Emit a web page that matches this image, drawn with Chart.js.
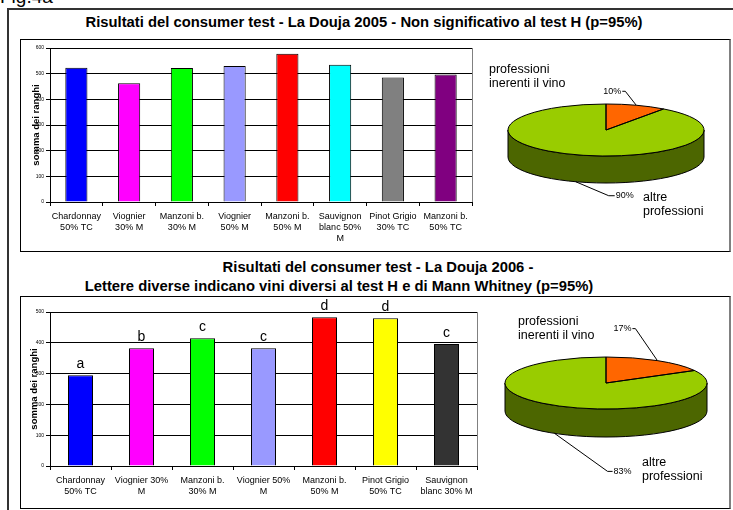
<!DOCTYPE html>
<html>
<head>
<meta charset="utf-8">
<script src="https://cdn.jsdelivr.net/npm/chart.js@4.4.1/dist/chart.umd.min.js"></script>
<style>
  body { margin: 0; background: #fff; width: 733px; height: 510px; overflow: hidden; position: relative;
         font-family: "Liberation Sans", Arial, sans-serif; }
  .abs { position: absolute; }
  .frame { position: absolute; border: 1px solid #000; border-right: 2px solid #808080; box-sizing: border-box; }
  .title { position: absolute; width: 700px; text-align: center; font-weight: bold; font-size: 14.8px; line-height: 17px; white-space: nowrap; }
  canvas { position: absolute; }
</style>
</head>
<body>
<div class="abs" style="left:0;top:-13px;font-size:19px;line-height:19px">Fig.4a</div>
<div class="abs" style="left:7px;top:8px;width:760px;height:540px;border:2px solid #333;box-sizing:border-box"></div>
<div class="frame" style="left:20px;top:39px;width:711px;height:213px"></div>
<div class="frame" style="left:20px;top:296px;width:711px;height:213px"></div>

<div class="title" style="left:14px;top:14px">Risultati del consumer test - La Douja 2005 - Non significativo al test H (p=95%)</div>
<div class="title" style="left:28px;top:259px">Risultati del consumer test - La Douja 2006 -</div>
<div class="title" style="left:-11px;top:278px">Lettere diverse indicano vini diversi al test H e di Mann Whitney (p=95%)</div>

<canvas id="bar2005" width="458" height="212" style="left:20px;top:39px"></canvas>
<canvas id="pie2005" width="250" height="210" style="left:481px;top:25px"></canvas>
<canvas id="bar2006" width="460" height="212" style="left:20px;top:296px"></canvas>
<canvas id="pie2006" width="250" height="210" style="left:481px;top:278px"></canvas>

<script>
const wines2005 = [['Chardonnay', '50% TC'], ['Viognier', '30% M'], ['Manzoni b.', '30% M'], ['Viognier', '50% M'],
  ['Manzoni b.', '50% M'], ['Sauvignon', 'blanc 50%', 'M'], ['Pinot Grigio', '30% TC'], ['Manzoni b.', '50% TC']];
const ranks2005 = [523, 463, 522, 530, 578, 535, 485, 497];
const colors2005 = ['#0000ff', '#ff00ff', '#00ff00', '#9999ff', '#ff0000', '#00ffff', '#808080', '#800080'];

const wines2006 = [['Chardonnay', '50% TC'], ['Viognier 30%', 'M'], ['Manzoni b.', '30% M'], ['Viognier 50%', 'M'],
  ['Manzoni b.', '50% M'], ['Pinot Grigio', '50% TC'], ['Sauvignon', 'blanc 30% M']];
const ranks2006 = [295, 382, 415, 382, 483, 480, 396];
const groups2006 = ['a', 'b', 'c', 'c', 'd', 'd', 'c'];
const colors2006 = ['#0000ff', '#ff00ff', '#00ff00', '#9999ff', '#ff0000', '#ffff00', '#333333'];

const jobs = [['professioni', 'inerenti il vino'], ['altre', 'professioni']];
const jobs2005 = [10, 90];
const jobs2006 = [17, 83];

const FONT = '"Liberation Sans", Arial, sans-serif';
Chart.defaults.font.family = FONT;

// grey right edge of the plot area
const plotFrame = {
  id: 'plotFrame',
  beforeDatasetsDraw(chart) {
    const { ctx, chartArea: a } = chart;
    ctx.save();
    ctx.strokeStyle = '#808080';
    ctx.lineWidth = 1;
    ctx.beginPath();
    ctx.moveTo(a.right + 0.5, a.top);
    ctx.lineTo(a.right + 0.5, a.bottom);
    ctx.stroke();
    ctx.restore();
  }
};

// significance letters above the bars
const letters = {
  id: 'letters',
  afterDatasetsDraw(chart, args, o) {
    if (!o.text) return;
    const ctx = chart.ctx;
    ctx.save();
    ctx.font = '14px ' + FONT;
    ctx.fillStyle = '#000';
    ctx.textAlign = 'center';
    chart.getDatasetMeta(0).data.forEach((bar, i) => ctx.fillText(o.text[i], bar.x, bar.y - 7));
    ctx.restore();
  }
};

function barChart(id, labels, values, colors, yMax, o) {
  return new Chart(document.getElementById(id), {
    type: 'bar',
    data: {
      labels: labels,
      datasets: [{ data: values, backgroundColor: colors, borderColor: '#000', borderWidth: 1,
        barPercentage: o.bar, categoryPercentage: 1 }]
    },
    options: {
      responsive: false,
      animation: false,
      layout: { padding: { top: o.top, right: o.right, left: 0, bottom: 0 } },
      plugins: { legend: { display: false }, tooltip: { enabled: false }, letters: { text: o.letters } },
      scales: {
        x: {
          grid: { drawOnChartArea: false, color: '#000', tickLength: 4, offset: true },
          border: { color: '#000' },
          ticks: { color: '#000', font: { size: 9, lineHeight: 1.22 }, padding: 5, maxRotation: 0, autoSkip: false },
          afterFit: s => { s.height = o.xh; }
        },
        y: {
          min: 0, max: yMax,
          ticks: { stepSize: 100, color: '#000', font: { size: 5 }, padding: 2 },
          grid: { color: '#000', tickLength: 4 },
          border: { color: '#000' },
          title: { display: true, text: 'somma dei ranghi', color: '#000', font: { size: 9.5, weight: 'bold' },
            padding: { top: o.tp, bottom: 0 } },
          afterFit: s => { s.width = 30; }
        }
      }
    },
    plugins: [plotFrame, letters]
  });
}

// flat pie squashed into an ellipse, with a dark side band and leader labels
const pie3d = {
  id: 'pie3d',
  beforeDatasetsDraw(chart, args, o) {
    const ctx = chart.ctx, arcs = chart.getDatasetMeta(0).data;
    const { x, y, outerRadius: r } = arcs[0];
    const ry = r * o.squash;
    ctx.save();
    ctx.lineWidth = 1;
    ctx.strokeStyle = '#000';
    arcs.forEach((arc, i) => {
      const from = Math.max(arc.startAngle, 0), to = Math.min(arc.endAngle, Math.PI);
      if (to <= from) return;
      ctx.beginPath();
      ctx.ellipse(x, y, r, ry, 0, from, to);
      ctx.ellipse(x, y + o.depth, r, ry, 0, to, from, true);
      ctx.closePath();
      ctx.fillStyle = o.side[i];
      ctx.fill();
      ctx.stroke();
    });
    ctx.restore();
    ctx.save();
    ctx.translate(x, y);
    ctx.scale(1, o.squash);
    ctx.translate(-x, -y);
  },
  afterDatasetsDraw(chart, args, o) {
    const ctx = chart.ctx, arcs = chart.getDatasetMeta(0).data;
    ctx.restore();
    const { x, y, outerRadius: r } = arcs[0];
    const ry = r * o.squash;
    const vals = chart.data.datasets[0].data;
    const total = vals.reduce((a, b) => a + b, 0);
    ctx.save();
    ctx.lineWidth = 1;
    ctx.strokeStyle = '#000';
    arcs.forEach(arc => {
      ctx.beginPath();
      ctx.moveTo(x, y);
      ctx.ellipse(x, y, r, ry, 0, arc.startAngle, arc.endAngle);
      ctx.closePath();
      ctx.stroke();
    });
    ctx.fillStyle = '#000';
    ctx.textBaseline = 'middle';
    arcs.forEach((arc, i) => {
      const m = (arc.startAngle + arc.endAngle) / 2;
      const px = x + r * Math.cos(m);
      const py = y + ry * Math.sin(m) + (Math.sin(m) > 0 ? o.depth : 0);
      const [dx, dy, hx] = o.leader[i];
      ctx.beginPath();
      ctx.moveTo(px, py);
      ctx.lineTo(px + dx, py + dy);
      ctx.lineTo(px + dx + hx, py + dy);
      ctx.stroke();
      ctx.font = '9px ' + FONT;
      ctx.textAlign = hx < 0 ? 'right' : 'left';
      ctx.fillText(Math.round(vals[i] / total * 100) + '%', px + dx + hx + Math.sign(hx), py + dy);
      const [nx, ny] = o.name[i];
      ctx.font = '12.5px ' + FONT;
      ctx.textAlign = 'left';
      chart.data.labels[i].forEach((line, k) => ctx.fillText(line, x + nx, y + ny + k * 14));
    });
    ctx.restore();
  }
};

function pieChart(id, values, o) {
  return new Chart(document.getElementById(id), {
    type: 'pie',
    data: { labels: jobs, datasets: [{ data: values, backgroundColor: ['#ff6600', '#99cc00'], borderWidth: 0, clip: false }] },
    options: {
      responsive: false,
      animation: false,
      radius: o.r,
      plugins: { legend: { display: false }, tooltip: { enabled: false }, pie3d: o }
    },
    plugins: [pie3d]
  });
}

barChart('bar2005', wines2005, ranks2005, colors2005, 600, { bar: 0.42, top: 9, right: 6, xh: 49, tp: 11 });
barChart('bar2006', wines2006, ranks2006, colors2006, 500, { bar: 0.41, top: 16, right: 3, xh: 42, tp: 8.5, letters: groups2006 });

pieChart('pie2005', jobs2005, { r: 98, squash: 26 / 98, depth: 27, side: ['#993d00', '#4c6600'],
  leader: [[-11, -14, -3], [33, 14, 6]], name: [[-117, -60], [37, 68]] });
pieChart('pie2006', jobs2006, { r: 101, squash: 26 / 101, depth: 28, side: ['#993d00', '#4c6600'],
  leader: [[-22, -32, -3], [53, 38, 5]], name: [[-88, -61], [36, 80]] });
</script>
</body>
</html>
